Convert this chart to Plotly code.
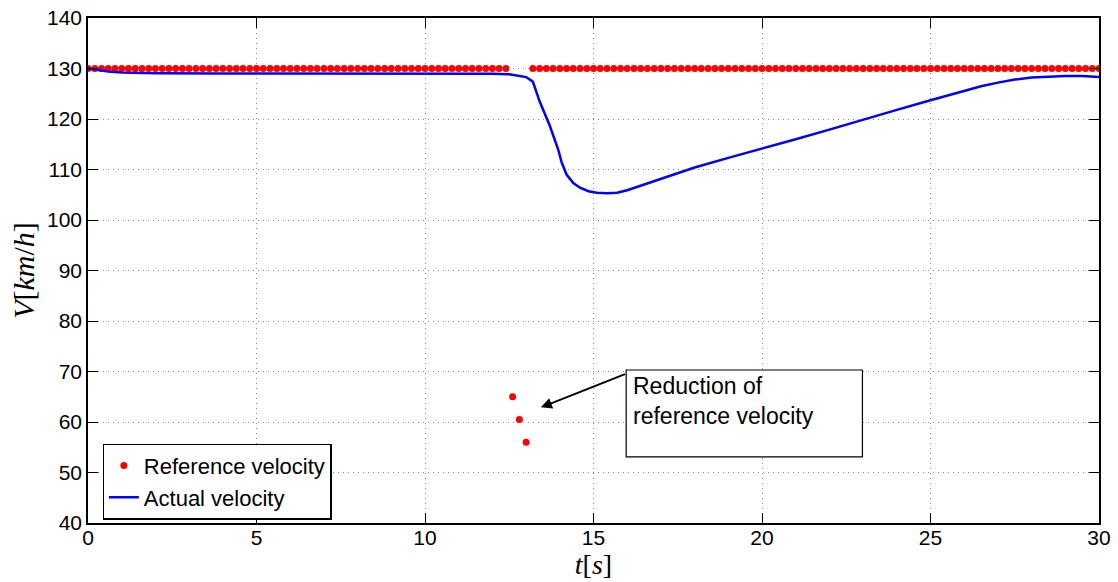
import numpy as np
import plotly.graph_objects as go

# Reference (set-point) velocity, sampled every 0.2 s
ref_time = np.round(np.arange(0, 30.0001, 0.2), 1)
ref_speed = [130.0] * 63 + [65.0, 60.5, 56.0] + [130.0] * 85

# Measured vehicle velocity
act_time = [0, 0.3, 0.6, 1.0, 1.5, 2, 4, 6, 8, 10, 11, 12, 12.5, 12.8, 13.0,
            13.2, 13.4, 13.7, 13.95, 14.05, 14.2, 14.4, 14.6, 14.85, 15.1,
            15.4, 15.7, 16.0, 16.5, 17, 18, 19, 20, 21, 22, 23, 24, 25, 26,
            26.5, 27, 27.5, 28, 28.5, 29, 29.5, 30]
act_speed = [130, 129.7, 129.4, 129.2, 129.1, 129.05, 129, 129, 129, 129, 129,
             128.95, 128.85, 128.6, 128.3, 127.4, 123.5, 118.7, 114.0, 111.5,
             109.0, 107.3, 106.4, 105.7, 105.4, 105.3, 105.4, 105.9, 107.0,
             108.1, 110.4, 112.3, 114.1, 116.0, 117.9, 119.9, 121.8, 123.7,
             125.6, 126.5, 127.2, 127.8, 128.2, 128.4, 128.5, 128.5, 128.3]

x_ticks = [0, 5, 10, 15, 20, 25, 30]
y_ticks = [40, 50, 60, 70, 80, 90, 100, 110, 120, 130, 140]

SANS = "Liberation Sans, Arial, sans-serif"
SERIF = "Liberation Serif, Times New Roman, serif"

fig = go.Figure()
fig.add_trace(go.Scatter(
    x=ref_time, y=ref_speed, mode="markers", name="Reference velocity",
    marker=dict(color="rgb(255,0,0)", size=7, line=dict(width=0)),
))
fig.add_trace(go.Scatter(
    x=act_time, y=act_speed, mode="lines", name="Actual velocity",
    line=dict(color="rgb(0,0,255)", width=2.5),
))

# Callout box with arrow pointing at the dip in the reference
fig.add_shape(type="rect", x0=15.97, x1=22.98, y0=53.1, y1=70.3,
              xref="x", yref="y", line=dict(color="black", width=1.2),
              fillcolor="white", layer="above")
fig.add_annotation(x=16.12, y=70.1, xref="x", yref="y", xanchor="left",
                   yanchor="top", align="left", showarrow=False,
                   text="Reduction of<br>reference velocity",
                   font=dict(family=SANS, size=23, color="black"))
fig.add_annotation(x=13.44, y=62.9, ax=15.98, ay=69.6, xref="x", yref="y",
                   axref="x", ayref="y", text="", showarrow=True,
                   arrowhead=2, arrowsize=1.1, arrowwidth=2,
                   arrowcolor="black")

axis_common = dict(
    showline=True, linecolor="black", linewidth=1.5, mirror="ticks",
    ticks="inside", ticklen=10, tickwidth=1.2, tickcolor="black",
    showgrid=True, gridcolor="rgb(140,140,140)", gridwidth=1,
    griddash="1px,4px", zeroline=False, automargin=False,
    tickfont=dict(family=SANS, size=21, color="black"),
)

fig.update_xaxes(range=[0, 30], tickvals=x_ticks, ticklabelstandoff=-5,
                 **axis_common,
                 title=dict(text="<i>t</i>[<i>s</i>]",
                            font=dict(family=SERIF, size=28, color="black"),
                            standoff=0))
fig.update_yaxes(range=[40, 140], tickvals=y_ticks, **axis_common,
                 title=dict(text="<i>V</i>[<i>km</i>/<i>h</i>]",
                            font=dict(family=SERIF, size=30, color="black"),
                            standoff=4))

fig.update_layout(
    width=1118, height=582,
    margin=dict(l=88, r=19, t=18, b=59),
    plot_bgcolor="white", paper_bgcolor="white",
    showlegend=True,
    legend=dict(x=0.0145, y=0.082, xanchor="left", yanchor="middle",
                bgcolor="white", bordercolor="black", borderwidth=1.2,
                font=dict(family=SANS, size=22, color="black"),
                itemsizing="trace", tracegroupgap=0),
)

fig.write_html("out.html")
